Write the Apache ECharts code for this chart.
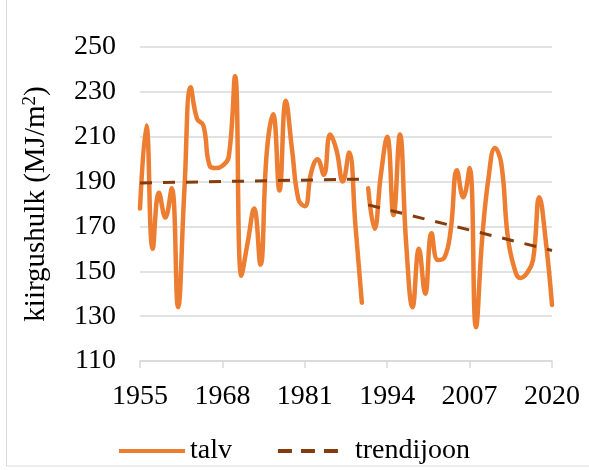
<!DOCTYPE html>
<html>
<head>
<meta charset="utf-8">
<script src="https://cdn.jsdelivr.net/npm/echarts@6/dist/echarts.min.js"></script>
<style>
  html, body { margin: 0; padding: 0; background: #fff; }
  #main { width: 589px; height: 470px; }
</style>
</head>
<body>
<div id="main"></div>
<script>
// aastad 1955..2020
var years = [];
for (var y = 1955; y <= 2020; y++) { years.push(String(y)); }

// talv 1955-1990
var talvA = [178, 215, 160, 185, 174, 187, 134, 186, 232, 218,
             215, 197, 196, 197, 201, 237, 148, 163, 178, 153,
             203, 220, 186, 226, 204, 182, 179, 194, 200, 193,
             211, 204, 190, 203, 170, 136];
// talv 1991-2020
var talvB = [187, 169, 193, 210, 175, 211, 162, 134, 160, 140,
             167, 155, 156, 168, 195, 183, 196, 125, 165, 192,
             205, 198, 166, 152, 147, 149, 155, 183, 164, 135];

// trendijoon otspunktid
var trendA = [189.4, 191.1];   // 1955, 1990
var trendB = [179.6, 159.3];   // 1991, 2020

var yTicks = [110, 130, 150, 170, 190, 210, 230, 250];

var FONT = 'Liberation Serif';
var ORANGE = '#ED7D31';
var BROWN = '#843C0C';

// put values on the full year axis, null elsewhere
function place(values, startYear) {
    var out = [];
    for (var i = 0; i < years.length; i++) { out.push(null); }
    var start = years.indexOf(String(startYear));
    for (var j = 0; j < values.length; j++) { out[start + j] = values[j]; }
    return out;
}

function placeEnds(ends, startYear, endYear) {
    var out = [];
    for (var i = 0; i < years.length; i++) { out.push(null); }
    out[years.indexOf(String(startYear))] = ends[0];
    out[years.indexOf(String(endYear))] = ends[1];
    return out;
}

var talvLine = { type: 'line', name: 'talv', smooth: 0.45, symbol: 'none',
                 lineStyle: { color: ORANGE, width: 4.5, cap: 'round' }, itemStyle: { color: ORANGE }, z: 3 };
var trendLine = { type: 'line', name: 'trendijoon', symbol: 'none', connectNulls: true,
                  lineStyle: { color: BROWN, width: 3, type: [12, 11] }, itemStyle: { color: BROWN }, z: 4 };

var option = {
    animation: false,
    textStyle: { fontFamily: FONT, color: '#000' },
    graphic: [{
        type: 'rect', shape: { x: 6.5, y: -5, width: 600, height: 471 },
        style: { fill: 'none', stroke: '#d9d9d9', lineWidth: 1 }, silent: true
    }],
    grid: { left: 140, right: 37, top: 47, bottom: 109 },
    legend: {
        data: [
            { name: 'talv', icon: 'rect', itemStyle: { color: ORANGE } },
            { name: 'trendijoon', icon: 'path://M0,0h14v4h-14z M23,0h14v4h-14z M46,0h14v4h-14z',
              itemStyle: { color: BROWN }, textStyle: { padding: [0, 0, 0, 9] } }
        ],
        top: 432, left: 'center',
        itemWidth: 66, itemHeight: 4, itemGap: 46,
        textStyle: { fontFamily: FONT, fontSize: 28, color: '#000' }
    },
    xAxis: {
        type: 'category',
        data: years,
        boundaryGap: false,
        axisLine: { lineStyle: { color: '#d9d9d9', width: 1.5 } },
        axisTick: { interval: 12, length: 7, lineStyle: { color: '#d9d9d9', width: 1.5 } },
        axisLabel: { interval: 12, margin: 22, fontSize: 28, fontFamily: FONT, color: '#000' },
        splitLine: { show: false }
    },
    yAxis: {
        type: 'value',
        min: yTicks[0], max: yTicks[yTicks.length - 1], interval: 20,
        name: 'kiirgushulk (MJ/m{sup|2})',
        nameLocation: 'middle', nameGap: 88,
        nameTextStyle: {
            fontFamily: FONT, fontSize: 29, color: '#000',
            rich: { sup: { fontFamily: FONT, fontSize: 19, color: '#000', verticalAlign: 'top', padding: [0, 0, 12, 0] } }
        },
        axisLine: { show: false },
        axisTick: { show: false },
        axisLabel: { margin: 24, fontSize: 28, fontFamily: FONT, color: '#000' },
        splitLine: { lineStyle: { color: '#d9d9d9', width: 1.5 } }
    },
    series: [
        Object.assign({}, talvLine, { data: place(talvA, 1955) }),
        Object.assign({}, talvLine, { data: place(talvB, 1991) }),
        Object.assign({}, trendLine, { data: placeEnds(trendA, 1955, 1990) }),
        Object.assign({}, trendLine, { data: placeEnds(trendB, 1991, 2020) })
    ]
};

var chart = echarts.init(document.getElementById('main'));
chart.setOption(option);
</script>
</body>
</html>
